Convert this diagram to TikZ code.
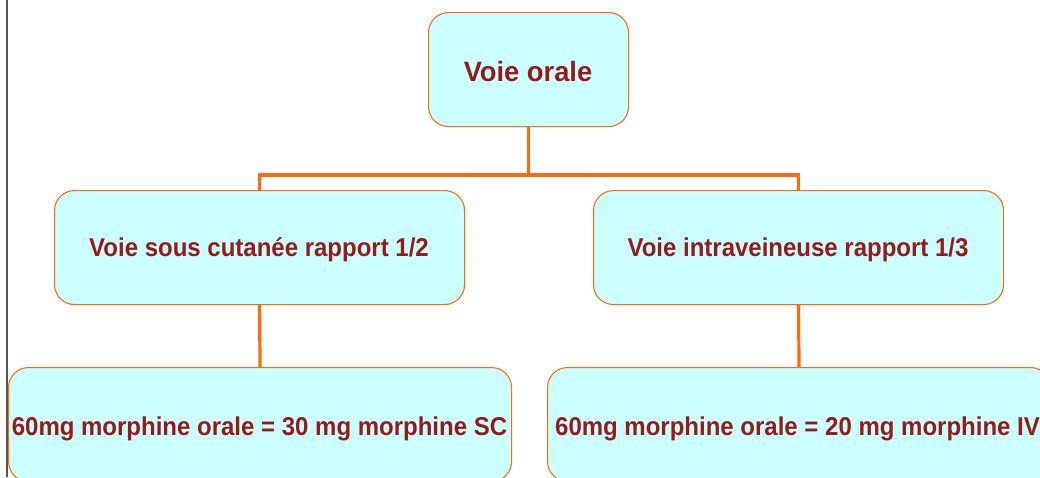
\documentclass[tikz,border=0pt]{standalone}
\usepackage{fontspec}
\usepackage{graphicx}
\setmainfont{Liberation Sans}
\definecolor{boxfill}{HTML}{CCFFFF}
\definecolor{boxline}{HTML}{FF6A10}
\definecolor{txt}{HTML}{961A1A}
\definecolor{leftline}{HTML}{555555}
\newcommand{\midtxt}[1]{\scalebox{0.93}[1]{\bfseries\fontsize{25.8}{28}\selectfont #1}}
\newcommand{\toptxt}[1]{\scalebox{0.975}[1]{\bfseries\fontsize{28}{31}\selectfont #1}}
\begin{document}
\begin{tikzpicture}[x=1pt,y=-1pt,
  box/.style={draw=boxline, line width=1.1pt, fill=boxfill, rounded corners=20pt,
    inner sep=0pt, anchor=north west, minimum height=114pt},
  lbl/.style={text=txt, inner sep=0pt, anchor=base},
  conn/.style={draw=boxline, line width=3.2pt}]
\useasboundingbox (0,0) rectangle (1040,477);
\clip (0,0) rectangle (1040,477);
\fill[white] (0,0) rectangle (1040,477);
\draw[leftline, line width=1.2pt] (7,0) -- (7,477);
% boxes
\node[box, minimum width=200pt] (top) at (428,12) {};
\node[lbl] (ttop) at (528,81) {\toptxt{Voie orale}};
\node[box, minimum width=410pt] (ml) at (54,190) {};
\node[lbl] (tml) at (259,256.7) {\midtxt{Voie sous cutanée rapport 1/2}};
\node[box, minimum width=410pt] (mr) at (593,190) {};
\node[lbl] (tmr) at (798,256.7) {\midtxt{Voie intraveineuse rapport 1/3}};
\node[box, minimum width=503pt] (bl) at (8,367) {};
\node[lbl] (tbl) at (259.5,435.7) {\midtxt{60mg morphine orale = 30 mg morphine SC}};
\node[box, minimum width=503pt] (br) at (547,367) {};
\node[lbl] (tbr) at (797.5,435.7) {\midtxt{60mg morphine orale = 20 mg morphine IV}};
% connectors
\coordinate (j) at (top.south |- 0,175);
\draw[conn] (top.south) -- (j);
\draw[conn] (j) -| (ml.north);
\draw[conn] (j) -| (mr.north);
\draw[conn] (ml.south) -- (bl.north);
\draw[conn] (mr.south) -- (br.north);
\end{tikzpicture}
\end{document}
